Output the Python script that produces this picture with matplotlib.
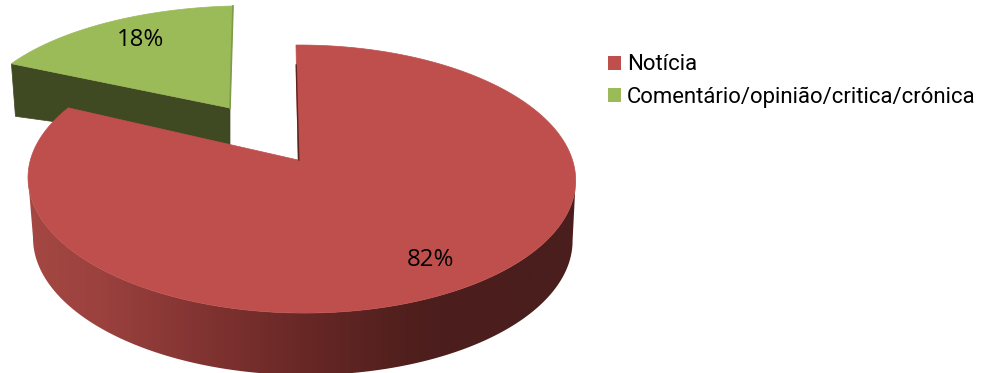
import numpy as np
import matplotlib
matplotlib.use("Agg")
import matplotlib.pyplot as plt
from matplotlib.colors import LinearSegmentedColormap
from matplotlib.patches import Polygon, Patch

# Share of articles by type
categories = ["Notícia", "Comentário/opinião/critica/crónica"]
shares = [82, 18]
face_colors = ["#BE4F4C", "#9BBB59"]
cut_color = "#404A22"
edge_green = "#7F9A4A"

W, H = 982, 373
fig = plt.figure(figsize=(W / 100, H / 100), dpi=100)
ax = fig.add_axes([0, 0, 1, 1])
ax.set_xlim(0, W)
ax.set_ylim(H, 0)
ax.axis("off")


def project(theta, r, view):
    """Perspective projection of a disc point; theta runs clockwise from 12 o'clock."""
    t = np.radians(theta)
    u, v = r * np.sin(t), -r * np.cos(t)
    w = 1 - view["p"] * v - view["q"] * u
    x = view["cx"] + (view["bx"] * u + view["sx"] * v) / w
    y = view["cy"] + view["by"] * v / w
    return x, y


def front_arc(view):
    """Rim points between the rightmost and leftmost silhouette of a disc."""
    thetas = np.linspace(30, 330, 601)
    x, y = project(thetas, 1, view)
    i, j = np.argmax(x), np.argmin(x)
    return np.c_[x[i:j + 1], y[i:j + 1]]


# Camera settings for the top and underside of each slice
red_top = dict(cx=298, cy=160, bx=271.0, by=131.3, p=0.142, q=0.0127, sx=2.3)
red_bot = dict(cx=299, cy=220, bx=267.0, by=133.0, p=0.142, q=0.0127, sx=2.3)
green_top = dict(cx=230, cy=108, bx=272.0, by=116.5, p=0.142, q=0.065, sx=-3.4)
green_bot = dict(cx=230, cy=146, bx=267.0, by=78.0, p=0.142, q=0.065, sx=-3.4)

sweeps = np.array(shares) / sum(shares) * 360
red_end = sweeps[0]
green_start, green_end = red_end, red_end + sweeps[1]

# Green slice, exploded backwards
arc = np.linspace(green_start, green_end, 80)
gx, gy = project(arc, 1, green_top)
ax_, ay_ = project(0, 0, green_top)
bx_, by_ = project(0, 0, green_bot)
tx, ty = project(green_start, 1, green_top)
ux, uy = project(green_start, 1, green_bot)
ax.add_patch(Polygon([(tx, ty), (ax_, ay_), (bx_, by_), (ux, uy)], closed=True,
                     fc=cut_color, ec=cut_color, lw=0.5, zorder=1))
ax.add_patch(Polygon(np.r_[np.c_[gx, gy], [[ax_, ay_]]], closed=True,
                     fc=face_colors[1], ec=face_colors[1], lw=0.5, zorder=2))
ex, ey = project(0, 1, green_top)
ax.plot([ex, ax_], [ey, ay_], color=edge_green, lw=1.2, zorder=3)

# Outer wall of the red slice, shaded across its width
stop_x = np.array([25, 100, 200, 300, 400, 440, 580])
stop_rgb = np.array([(165, 72, 67), (155, 65, 62), (130, 52, 50), (105, 40, 38),
                     (82, 32, 30), (76, 30, 29), (74, 30, 29)]) / 255
wall_cmap = LinearSegmentedColormap.from_list(
    "wall", list(zip((stop_x - stop_x[0]) / (stop_x[-1] - stop_x[0]), stop_rgb)))
wall = Polygon(np.r_[front_arc(red_top), front_arc(red_bot)[::-1]], closed=True,
               fc="none", ec="none", transform=ax.transData)
ax.add_patch(wall)
shade = ax.imshow(np.linspace(0, 1, 556).reshape(1, -1), cmap=wall_cmap, aspect="auto",
                  extent=(stop_x[0], stop_x[-1], H, 0), zorder=4, interpolation="bilinear")
shade.set_clip_path(wall)
ax.set_xlim(0, W)
ax.set_ylim(H, 0)

# Red slice top face and the thin inner cut along 12 o'clock
arc = np.linspace(0, red_end, 300)
rx, ry = project(arc, 1, red_top)
cx_, cy_ = project(0, 0, red_top)
ax.add_patch(Polygon(np.r_[np.c_[rx, ry], [[cx_, cy_]]], closed=True,
                     fc=face_colors[0], ec=face_colors[0], lw=0.5, zorder=5))
sx_, sy_ = project(0, 1, red_top)
ax.plot([sx_ + 0.2, cx_ + 0.8], [sy_ + 20, cy_], color="#5E2321", lw=1.0, zorder=6)

# Percentage labels placed on the faces
label_font = "Open Sans"
ax.text(141, 40, f"{shares[1]}%", ha="center", va="center", fontsize=17.3,
        family=label_font, color="black", zorder=7)
ax.text(431, 260, f"{shares[0]}%", ha="center", va="center", fontsize=17.3,
        family=label_font, color="black", zorder=7)

handles = [Patch(fc=c, ec="none") for c in face_colors]
ax.legend(handles, categories, loc="upper left", bbox_to_anchor=(608, 54.5),
          bbox_transform=ax.transData, frameon=False, borderpad=0, borderaxespad=0,
          handlelength=0.59, handleheight=0.59, handletextpad=0.27,
          labelspacing=0.5, prop={"family": "Roboto", "size": 15.9})

fig.savefig("out.png", dpi=100)
